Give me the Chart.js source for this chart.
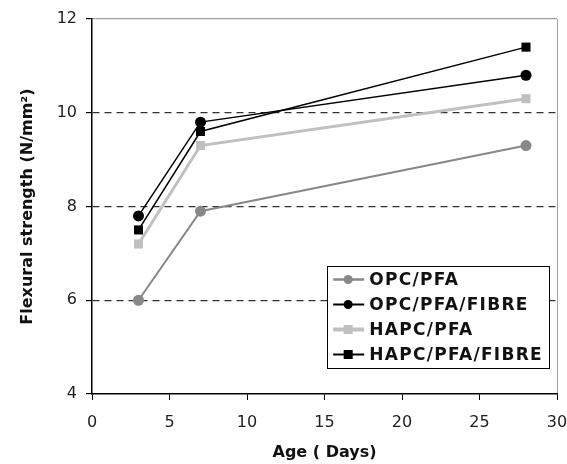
<!DOCTYPE html>
<html>
<head>
<meta charset="utf-8">
<script src="https://cdn.jsdelivr.net/npm/chart.js@4/dist/chart.umd.min.js"></script>
<style>
  html, body { margin: 0; padding: 0; background: #fff; }
  #wrap { width: 567px; height: 464px; }
</style>
</head>
<body>
<div id="wrap"><canvas id="c" width="567" height="464"></canvas></div>
<script>
// Flexural strength development with age
const ages = [3, 7, 28];
const opcPfa = [6.0, 7.9, 9.3];
const opcPfaFibre = [7.8, 9.8, 10.8];
const hapcPfa = [7.2, 9.3, 10.3];
const hapcPfaFibre = [7.5, 9.6, 11.4];
const seriesNames = ['OPC/PFA', 'OPC/PFA/FIBRE', 'HAPC/PFA', 'HAPC/PFA/FIBRE'];
const xTicks = [0, 5, 10, 15, 20, 25, 30];
const yTicks = [4, 6, 8, 10, 12];

const FONT = '"DejaVu Sans", Verdana, sans-serif';

function pts(vals) { return ages.map((a, i) => ({ x: a, y: vals[i] })); }

const styles = [
  { color: '#888888', width: 2,   shape: 'circle', r: 5.5 },
  { color: '#000000', width: 1.5, shape: 'circle', r: 5.5 },
  { color: '#c0c0c0', width: 3,   shape: 'rect',   r: 6.4 },
  { color: '#000000', width: 1.5, shape: 'rect',   r: 6.4 }
];
const seriesVals = [opcPfa, opcPfaFibre, hapcPfa, hapcPfaFibre];

const datasets = seriesVals.map((vals, i) => ({
  label: seriesNames[i],
  data: pts(vals),
  borderColor: styles[i].color,
  backgroundColor: styles[i].color,
  borderWidth: styles[i].width,
  pointStyle: styles[i].shape,
  pointRadius: styles[i].r,
  pointBorderWidth: 0,
  pointHoverRadius: styles[i].r,
  tension: 0,
  fill: false
}));

// Boxed legend inside the lower right of the plot area
const boxedLegend = {
  id: 'boxedLegend',
  afterDraw(chart) {
    const ctx = chart.ctx;
    const area = chart.chartArea;
    ctx.save();
    ctx.font = 'bold 17px ' + FONT;
    ctx.letterSpacing = '1.3px';
    let maxW = 0;
    seriesNames.forEach(n => { maxW = Math.max(maxW, ctx.measureText(n).width); });
    const w = 42 + maxW + 6;
    const h = 102;
    const right = area.right - 8;
    const bottom = area.bottom - 26.5;
    const left = right - w;
    const top = bottom - h;
    ctx.fillStyle = '#fff';
    ctx.fillRect(left, top, w, h);
    ctx.strokeStyle = '#000';
    ctx.lineWidth = 1;
    ctx.strokeRect(Math.round(left) + 0.5, Math.round(top) + 0.5, Math.round(w), Math.round(h));
    seriesNames.forEach((n, i) => {
      const s = styles[i];
      const y = top + 14 + i * 25;
      ctx.strokeStyle = s.color;
      ctx.lineWidth = s.width === 1.5 ? 2 : (s.width === 3 ? 4 : 2.5);
      ctx.beginPath();
      ctx.moveTo(left + 6, y);
      ctx.lineTo(left + 37, y);
      ctx.stroke();
      ctx.fillStyle = s.color;
      if (s.shape === 'circle') {
        ctx.beginPath();
        ctx.arc(left + 21, y, 4.5, 0, Math.PI * 2);
        ctx.fill();
      } else {
        ctx.fillRect(left + 21 - 4.5, y - 4.5, 9, 9);
      }
      ctx.fillStyle = '#111';
      ctx.textBaseline = 'middle';
      ctx.textAlign = 'left';
      ctx.fillText(n, left + 42, y + 1);
    });
    ctx.restore();
  }
};

new Chart(document.getElementById('c'), {
  type: 'line',
  data: { datasets },
  options: {
    responsive: false,
    animation: false,
    devicePixelRatio: 1,
    layout: { autoPadding: false, padding: { top: 19, right: 0, left: 0, bottom: 0 } },
    plugins: {
      legend: { display: false },
      tooltip: { enabled: false }
    },
    scales: {
      x: {
        type: 'linear',
        min: 0,
        max: 30,
        afterBuildTicks(scale) { scale.ticks = xTicks.map(v => ({ value: v })); },
        afterFit(scale) {
          scale.height = 70;
          scale.paddingLeft = 0;
          scale.paddingRight = 10;
        },
        grid: {
          drawOnChartArea: true,
          color: c => (c.tick && c.tick.value === 30 ? '#a0a0a0' : 'rgba(0,0,0,0)'),
          tickColor: '#000',
          tickLength: 6,
          lineWidth: 1
        },
        border: { display: true, color: '#000', width: 1.5 },
        ticks: {
          color: '#222',
          font: { family: FONT, size: 16 },
          padding: 13,
          maxRotation: 0
        },
        title: {
          display: true,
          text: 'Age ( Days)',
          color: '#111',
          font: { family: FONT, size: 16, weight: 'bold' },
          padding: { top: 0, bottom: 2 }
        }
      },
      y: {
        min: 4,
        max: 12,
        afterBuildTicks(scale) { scale.ticks = yTicks.map(v => ({ value: v })); },
        afterFit(scale) { scale.width = 92; },
        grid: {
          drawOnChartArea: true,
          color: c => {
            if (!c.tick) return 'rgba(0,0,0,0)';
            const v = c.tick.value;
            if (v === 12) return '#a0a0a0';
            if (v === 6 || v === 8 || v === 10) return '#333';
            return 'rgba(0,0,0,0)';
          },
          tickColor: '#000',
          tickLength: 6,
          lineWidth: 1.2
        },
        border: {
          display: true,
          color: '#000',
          width: 1.5,
          dash: c => (c.type === 'tick' && c.tick && c.tick.value !== 12 ? [7, 5] : [])
        },
        ticks: {
          color: '#222',
          font: { family: FONT, size: 16 },
          padding: 9
        },
        title: {
          display: true,
          text: 'Flexural strength (N/mm²)',
          color: '#111',
          font: { family: FONT, size: 16, weight: 'bold' },
          padding: { top: 18, bottom: 0 }
        }
      }
    }
  },
  plugins: [boxedLegend]
});
</script>
</body>
</html>
